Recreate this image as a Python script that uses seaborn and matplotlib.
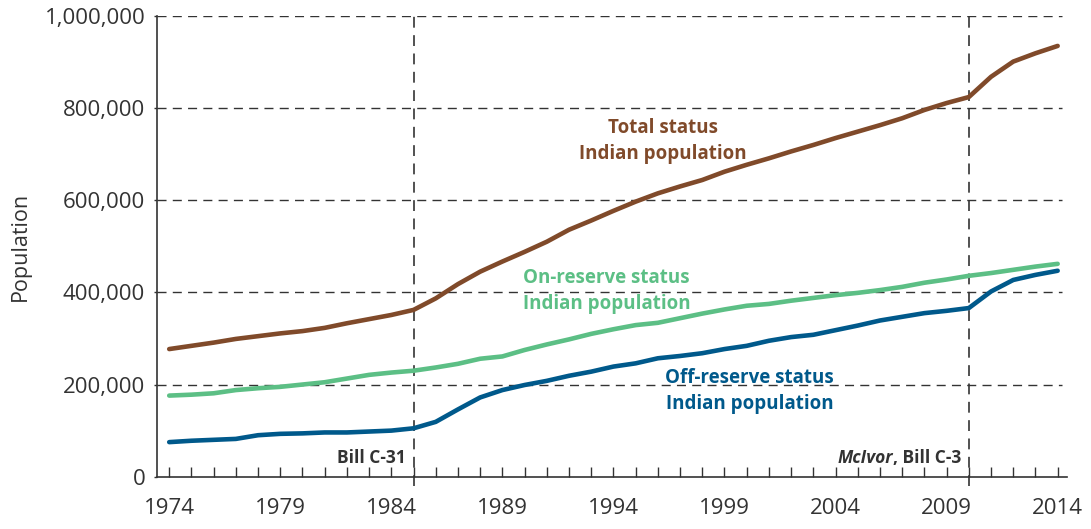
import numpy as np
import pandas as pd
import matplotlib
matplotlib.use("Agg")
import matplotlib.pyplot as plt
from matplotlib.ticker import FuncFormatter, MultipleLocator
import seaborn as sns

years = list(range(1974, 2015))
total = [277, 284, 291, 299, 305, 311, 316, 323, 333, 342, 351, 362, 387, 418, 445,
         467, 488, 510, 536, 556, 577, 597, 615, 630, 644, 662, 677, 691, 706, 720,
         735, 749, 763, 778, 796, 811, 824, 868, 901, 919, 935]
on_reserve = [176, 178, 181, 188, 192, 195, 200, 205, 213, 221, 226, 230, 237, 245, 256,
              261, 275, 287, 298, 310, 320, 329, 334, 344, 354, 363, 371, 375, 382, 388,
              394, 399, 405, 412, 421, 428, 436, 442, 449, 456, 462]
off_reserve = [75, 78, 80, 82, 90, 93, 94, 96, 96, 98, 100, 105, 119, 146, 172,
               188, 199, 208, 219, 228, 239, 246, 257, 262, 268, 277, 284, 295, 303, 308,
               318, 328, 339, 347, 355, 360, 366, 402, 427, 438, 447]
series_names = ["Total status\nIndian population",
                "On-reserve status\nIndian population",
                "Off-reserve status\nIndian population"]
colors = ["#804a2a", "#5cbf85", "#00598b"]
event_years = [1985, 2010]
y_ticks = [0, 200000, 400000, 600000, 800000, 1000000]
x_ticks = list(range(1974, 2015, 5))

df = pd.concat([
    pd.DataFrame({"Year": years, "Population": np.array(v) * 1000, "Series": n})
    for v, n in zip([total, on_reserve, off_reserve], series_names)
])

sns.set_style("ticks")
plt.rcParams["font.family"] = ["Open Sans", "DejaVu Sans"]

fig = plt.figure(figsize=(10.91, 5.29), dpi=100)
ax = fig.add_axes([0.1439, 0.0989, 0.978 - 0.1439, 0.9698 - 0.0989])

sns.lineplot(data=df, x="Year", y="Population", hue="Series", palette=colors,
             hue_order=series_names, linewidth=3.3, ax=ax, legend=False)

ax.set_xlim(1973.45, 2014.42)
ax.set_ylim(0, 1000000)
ax.set_yticks(y_ticks)
ax.yaxis.set_major_formatter(FuncFormatter(lambda v, p: f"{int(v):,}"))
ax.set_xticks(x_ticks)
ax.xaxis.set_minor_locator(MultipleLocator(1))
ax.tick_params(axis="x", which="both", direction="in", length=7, width=1,
               color="#333333", pad=15, labelsize=16, labelcolor="#333333")
ax.tick_params(axis="y", which="major", direction="out", length=2.5, width=1,
               color="#333333", pad=6, labelsize=16, labelcolor="#333333")

for s in ["top", "right"]:
    ax.spines[s].set_visible(False)
for s in ["left", "bottom"]:
    ax.spines[s].set_color("#333333")
    ax.spines[s].set_linewidth(1.2)

for yv in y_ticks[1:]:
    ax.axhline(yv, color="#333333", lw=1, dashes=(6.5, 4.5), zorder=0,
               xmax=(2014.2 - 1973.45) / (2014.42 - 1973.45))
for ev in event_years:
    ax.axvline(ev, ymin=-0.02, ymax=1, color="#333333", lw=1.2, dashes=(6.5, 4.5),
               clip_on=False, zorder=1)

ax.set_xlabel("")
ax.set_ylabel("Population", fontsize=15.5, color="#333333", labelpad=10)

ax.text(1996.23, 728000, series_names[0], color=colors[0], fontsize=13.5,
        fontweight="bold", ha="center", va="center", linespacing=1.4)
ax.text(1993.7, 404000, series_names[1], color=colors[1], fontsize=13.5,
        fontweight="bold", ha="center", va="center", linespacing=1.4)
ax.text(2000.14, 186000, series_names[2], color=colors[2], fontsize=13.5,
        fontweight="bold", ha="center", va="center", linespacing=1.4)

ax.text(1985 - 0.35, 40000, "Bill C-31", color="#333333", fontsize=12.5,
        fontweight="bold", ha="right", va="center")
t2 = ax.text(2010 - 0.35, 40000, ", Bill C-3", color="#333333", fontsize=12.5,
             fontweight="bold", ha="right", va="center")
fig.canvas.draw()
bb = t2.get_window_extent(renderer=fig.canvas.get_renderer())
x0 = ax.transData.inverted().transform((bb.x0, bb.y0))[0]
ax.text(x0, 40000, "McIvor", color="#333333", fontsize=12.5, fontstyle="italic",
        fontweight="bold", ha="right", va="center")

fig.savefig("out.png", dpi=100)
